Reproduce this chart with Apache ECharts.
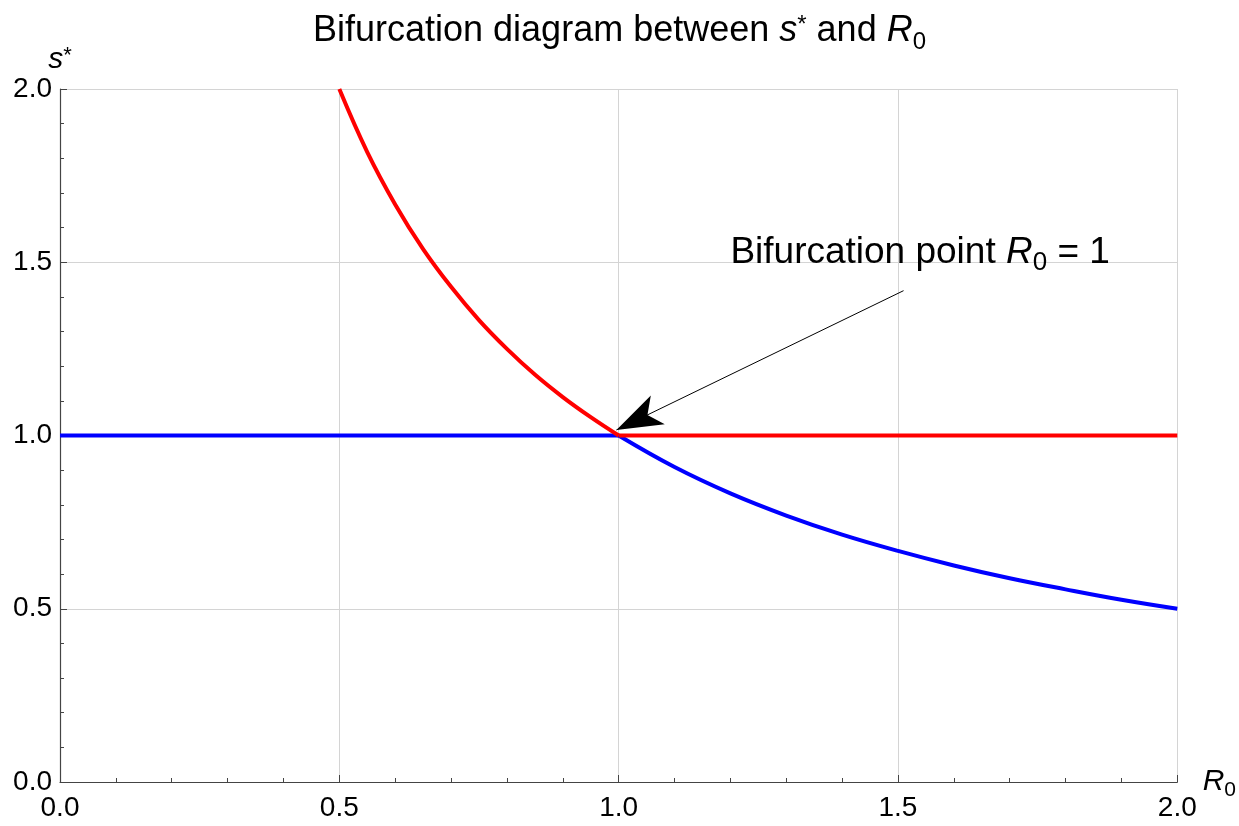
<!DOCTYPE html>
<html>
<head>
<meta charset="utf-8">
<script src="https://cdn.jsdelivr.net/npm/echarts@6/dist/echarts.min.js"></script>
<style>
  html, body { margin: 0; padding: 0; background: #fff; }
  #main { width: 1239px; height: 826px; }
</style>
</head>
<body>
<div id="main"></div>
<script>
// values
// red branch: falling part (R0 from 0.5 to 1) then flat at s* = 1
const redCurveX = [0.5, 0.55, 0.6, 0.65, 0.7, 0.75, 0.8, 0.85, 0.9, 0.95, 1.0];
const redCurveY = [2.0, 1.818, 1.667, 1.538, 1.429, 1.333, 1.25, 1.176, 1.111, 1.053, 1.0];
const redFlatX = [1.0, 2.0];
const redFlatY = [1.0, 1.0];
// blue branch: flat at s* = 1 then falling (R0 from 1 to 2)
const blueFlatX = [0.0, 1.0];
const blueFlatY = [1.0, 1.0];
const blueCurveX = [1.0, 1.1, 1.2, 1.3, 1.4, 1.5, 1.6, 1.7, 1.8, 1.9, 2.0];
const blueCurveY = [1.0, 0.909, 0.833, 0.769, 0.714, 0.667, 0.625, 0.588, 0.556, 0.526, 0.5];
// annotation
const arrowFrom = [1.51, 1.418];
const arrowTo = [0.996, 1.016];
const notePos = [1.2, 1.528];

const FONT = 'Liberation Sans';

function pairs(xs, ys) {
  return xs.map((x, i) => [x, ys[i]]);
}

const chart = echarts.init(document.getElementById('main'));

const tickStyle = { color: '#444', width: 1 };

const option = {
  animation: false,
  backgroundColor: '#fff',
  title: {
    text: 'Bifurcation diagram between {it|s}{sup|*} and {it|R}{sub|0}',
    left: 'center',
    top: 8,
    textStyle: {
      fontFamily: FONT, fontSize: 36, fontWeight: 'normal', color: '#000',
      rich: {
        it: { fontFamily: FONT, fontSize: 36, fontStyle: 'italic', color: '#000' },
        sup: { fontFamily: FONT, fontSize: 24, verticalAlign: 'top', color: '#000' },
        sub: { fontFamily: FONT, fontSize: 24, verticalAlign: 'bottom', color: '#000', padding: [0, 0, -5, 0] }
      }
    }
  },
  grid: { left: 60, right: 59, top: 89, bottom: 44, containLabel: false },
  xAxis: {
    type: 'value', min: 0, max: 2, interval: 0.5,
    name: '{it|R}{sub|0}',
    nameLocation: 'end',
    nameGap: 9,
    nameTextStyle: {
      rich: {
        it: { fontFamily: FONT, fontSize: 30, fontStyle: 'italic', color: '#000' },
        sub: { fontFamily: FONT, fontSize: 21, verticalAlign: 'bottom', color: '#000', padding: [0, 0, -4, 0] }
      }
    },
    axisLine: { show: true, lineStyle: { color: '#444', width: 1.2 } },
    axisTick: { show: true, inside: true, length: 7, lineStyle: tickStyle },
    minorTick: { show: true, splitNumber: 5, length: 4, lineStyle: tickStyle },
    axisLabel: {
      fontFamily: FONT, fontSize: 28, color: '#000', margin: 12,
      formatter: v => v.toFixed(1)
    },
    splitLine: { show: true, lineStyle: { color: '#d4d4d4', width: 1 } }
  },
  yAxis: {
    type: 'value', min: 0, max: 2, interval: 0.5,
    name: '{it|s}{sup|*}',
    nameLocation: 'end',
    nameGap: 10,
    nameTextStyle: {
      rich: {
        it: { fontFamily: FONT, fontSize: 30, fontStyle: 'italic', color: '#000' },
        sup: { fontFamily: FONT, fontSize: 22, verticalAlign: 'top', color: '#000' }
      }
    },
    axisLine: { show: true, lineStyle: { color: '#444', width: 1.2 } },
    axisTick: { show: true, inside: true, length: 7, lineStyle: tickStyle },
    minorTick: { show: true, splitNumber: 5, length: 4, lineStyle: tickStyle },
    axisLabel: {
      fontFamily: FONT, fontSize: 28, color: '#000', margin: 8,
      formatter: v => v.toFixed(1)
    },
    splitLine: { show: true, lineStyle: { color: '#d4d4d4', width: 1 } }
  },
  series: [
    {
      type: 'line', data: pairs(blueFlatX, blueFlatY), showSymbol: false,
      lineStyle: { color: '#0000ff', width: 4 }, z: 2
    },
    {
      type: 'line', data: pairs(blueCurveX, blueCurveY), showSymbol: false, smooth: 0.4,
      lineStyle: { color: '#0000ff', width: 4 }, z: 2
    },
    {
      type: 'line', data: pairs(redCurveX, redCurveY), showSymbol: false, smooth: 0.4,
      lineStyle: { color: '#ff0000', width: 4 }, z: 3
    },
    {
      type: 'line', data: pairs(redFlatX, redFlatY), showSymbol: false,
      lineStyle: { color: '#ff0000', width: 4 }, z: 3,
      markLine: {
        silent: true,
        symbol: ['none', 'arrow'],
        symbolSize: [24, 46],
        label: { show: false },
        lineStyle: { color: '#000', width: 1, type: 'solid' },
        itemStyle: { color: '#000' },
        data: [[{ coord: arrowFrom }, { coord: arrowTo }]]
      },
      markPoint: {
        silent: true,
        symbol: 'circle',
        symbolSize: 0,
        data: [{ coord: notePos }],
        label: {
          show: true,
          position: [0, 0],
          align: 'left',
          verticalAlign: 'middle',
          formatter: 'Bifurcation point {it|R}{sub|0} = 1',
          fontFamily: FONT, fontSize: 37, color: '#000',
          rich: {
            it: { fontFamily: FONT, fontSize: 37, fontStyle: 'italic', color: '#000' },
            sub: { fontFamily: FONT, fontSize: 26, verticalAlign: 'bottom', color: '#000', padding: [0, 0, -5, 0] }
          }
        }
      }
    }
  ]
};

chart.setOption(option);
</script>
</body>
</html>
